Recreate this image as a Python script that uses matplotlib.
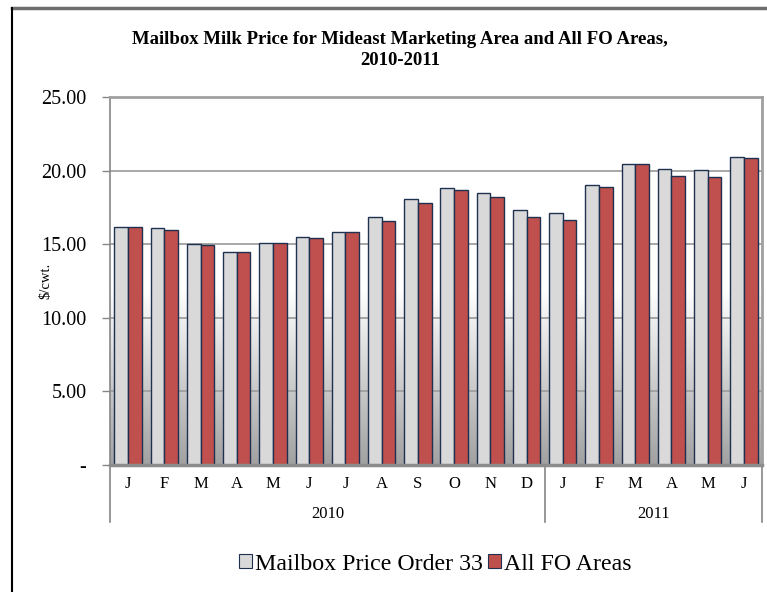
import numpy as np
import matplotlib
matplotlib.use('Agg')
import matplotlib.pyplot as plt
from matplotlib.patches import Patch
from matplotlib.lines import Line2D

plt.rcParams['font.family'] = ['Liberation Serif', 'DejaVu Serif']

months = ['J', 'F', 'M', 'A', 'M', 'J', 'J', 'A', 'S', 'O', 'N', 'D',
          'J', 'F', 'M', 'A', 'M', 'J']
years = ['2010', '2011']
year_counts = [12, 6]
order33 = [16.16, 16.09, 14.98, 14.48, 15.05, 15.48, 15.82, 16.86, 18.05,
           18.82, 18.48, 17.33, 17.14, 19.00, 20.48, 20.14, 20.02, 20.95]
all_fo = [16.16, 15.98, 14.94, 14.48, 15.07, 15.39, 15.80, 16.61, 17.82,
          18.66, 18.23, 16.87, 16.64, 18.91, 20.48, 19.64, 19.55, 20.88]
yticks = [0, 5, 10, 15, 20, 25]
ytick_labels = ['-', '5.00', '10.00', '15.00', '20.00', '25.00']

W, H = 767, 592
fig = plt.figure(figsize=(W / 100, H / 100), dpi=100)
ax = fig.add_axes([110 / W, 1 - 465 / H, (762 - 110) / W, (465 - 97) / H])

x = np.arange(len(months))
w = 0.378

# background gradient (white top, grey toward the bottom)
vals = np.linspace(25, 0, 300)
shade = np.where(vals > 12, 1.0, 1.0 - (12 - vals) / 12 * 0.37)
grad = np.repeat(shade[:, None], 2, axis=1)
ax.imshow(grad, cmap='gray', vmin=0, vmax=1, aspect='auto',
          extent=[-0.5, 17.5, 0, 25], zorder=0)

for yv in [5, 10, 15, 20]:
    ax.axhline(yv, color='#a0a0a0', lw=1.3, zorder=1)

ax.bar(x - w / 2, order33, w, color='#d9d9d9', edgecolor='#1f3150',
       linewidth=1.0, zorder=3)
ax.bar(x + w / 2, all_fo, w, color='#c0504d', edgecolor='#1f3150',
       linewidth=1.0, zorder=3)

ax.set_xlim(-0.5, 17.5)
ax.set_ylim(0, 25)
ax.set_yticks(yticks)
ax.set_yticklabels(ytick_labels, fontsize=14.5)
ax.tick_params(axis='y', length=6, width=1, color='#868686', pad=11)
ax.set_xticks([])

for side in ['top', 'right']:
    ax.spines[side].set_color('#a0a0a0')
    ax.spines[side].set_linewidth(2)
ax.spines['left'].set_color('#868686')
ax.spines['left'].set_linewidth(1.2)
ax.spines['bottom'].set_color('#8c8c8c')
ax.spines['bottom'].set_linewidth(2.5)
ax.spines['bottom'].set_zorder(4)

# category labels: months and years
trans = ax.get_xaxis_transform()
for xi, m in zip(x, months):
    ax.text(xi, -0.052, m, transform=trans, ha='center', va='center',
            fontsize=12)
start = 0
for yr, n in zip(years, year_counts):
    ax.text(start + (n - 1) / 2, -0.132, yr, transform=trans, ha='center',
            va='center', fontsize=12)
    start += n
for xs in [-0.5, 11.5, 17.5]:
    ax.add_line(Line2D([xs, xs], [0, -0.155], transform=trans,
                       color='#868686', lw=1.2, clip_on=False))

ax.set_ylabel('$/cwt.', fontsize=10.5)
ax.yaxis.set_label_coords(-0.088, 0.5)

fig.text(400 / W, 1 - 50 / H,
         'Mailbox Milk Price for Mideast Marketing Area and All FO Areas,\n2010-2011',
         ha='center', va='center', fontsize=13.5, fontweight='bold',
         linespacing=1.25)

handles = [Patch(facecolor='#d9d9d9', edgecolor='#1f3150', lw=0.8),
           Patch(facecolor='#c0504d', edgecolor='#1f3150', lw=0.8)]
fig.legend(handles, ['Mailbox Price Order 33', 'All FO Areas'],
           loc='center', bbox_to_anchor=(435 / W, 1 - 564 / H), ncol=2,
           frameon=False, fontsize=17.2, handlelength=0.55,
           handleheight=0.55, handletextpad=0.12, columnspacing=0.2)

# outer chart border
fig.add_artist(Line2D([12 / W, 1], [1 - 8 / H, 1 - 8 / H], color='#6e6e6e',
                      lw=2.5, transform=fig.transFigure))
fig.add_artist(Line2D([12 / W, 12 / W], [0, 1 - 8 / H], color='black',
                      lw=1.5, transform=fig.transFigure))

fig.savefig('out.png', dpi=100)
